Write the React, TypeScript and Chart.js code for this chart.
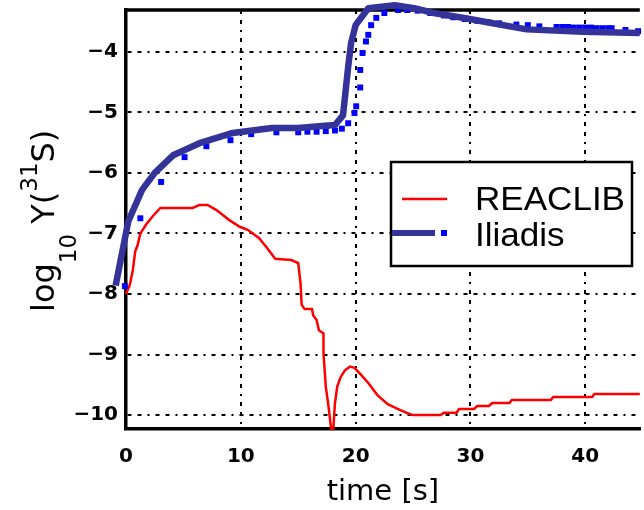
import React, { useEffect, useRef } from 'react';
import { Chart, registerables } from 'chart.js';

Chart.register(...registerables);

// ---- data ----
const reaclibX = [0, 0.33, 0.6, 0.8, 1.0, 1.25, 1.8, 2.4, 3.0, 5.8, 6.4, 7.1, 7.85, 9.0, 9.9, 10.6, 11.6, 12.2, 13.0, 14.4, 15.0, 15.2, 15.3, 15.56, 16.2, 16.3, 16.6, 16.8, 17.2, 17.2, 17.4, 17.6, 17.86, 18.06, 18.2, 18.4, 18.7, 19.07, 19.5, 19.9, 20.5, 21.1, 21.9, 22.8, 23.7, 24.4, 25.0, 27.4, 27.7, 28.8, 29.0, 30.3, 30.6, 31.6, 31.9, 33.4, 33.6, 37.0, 37.2, 40.6, 40.8, 44.75];
const reaclibY = [-8.0, -7.85, -7.6, -7.3, -7.2, -7.0, -6.84, -6.7, -6.58, -6.58, -6.53, -6.53, -6.61, -6.78, -6.89, -6.94, -7.08, -7.22, -7.42, -7.44, -7.49, -7.82, -8.18, -8.25, -8.25, -8.35, -8.43, -8.6, -8.65, -8.98, -9.53, -9.8, -10.22, -10.22, -9.8, -9.53, -9.37, -9.26, -9.2, -9.22, -9.34, -9.47, -9.67, -9.82, -9.9, -9.96, -10.0, -10.0, -9.96, -9.96, -9.9, -9.9, -9.85, -9.85, -9.8, -9.8, -9.75, -9.75, -9.7, -9.7, -9.65, -9.65];

const iliadisX = [-0.9, 0.2, 1.4, 2.5, 4.1, 6.4, 9.3, 12.7, 15.0, 16.8, 18.2, 18.9, 19.35, 19.6, 20.0, 21.1, 23.4, 25.1, 26.8, 29.7, 31.7, 34.9, 39.8, 44.75];
const iliadisY = [-7.86, -6.8, -6.28, -6.0, -5.71, -5.51, -5.34, -5.26, -5.26, -5.23, -5.21, -5.05, -4.25, -3.86, -3.56, -3.28, -3.23, -3.28, -3.36, -3.45, -3.52, -3.63, -3.67, -3.69];

const markerX = [-0.1, 1.25, 3.06, 5.1, 7.0, 9.1, 10.9, 13.1, 15.0, 15.8, 16.6, 17.4, 18.2, 18.8, 19.35, 19.9, 20.05, 20.4, 20.4, 20.6, 20.9, 21.1, 21.35, 21.8, 22.5, 23.7, 24.5, 25.4, 26.5, 27.7, 28.5, 29.5, 30.6, 31.5, 32.5, 34.0, 35.0, 36.0, 37.5, 38.0, 38.5, 39.0, 39.5, 40.0, 40.5, 41.0, 41.5, 42.0, 42.3, 43.5, 44.6];
const markerY = [-7.87, -6.75, -6.15, -5.74, -5.56, -5.46, -5.36, -5.33, -5.33, -5.32, -5.32, -5.31, -5.3, -5.27, -5.18, -5.01, -4.9, -4.59, -4.3, -4.02, -3.83, -3.72, -3.56, -3.44, -3.36, -3.31, -3.31, -3.32, -3.36, -3.4, -3.43, -3.46, -3.49, -3.51, -3.53, -3.55, -3.56, -3.58, -3.59, -3.59, -3.59, -3.6, -3.6, -3.6, -3.6, -3.61, -3.61, -3.61, -3.61, -3.64, -3.66];

const xTicks = [0, 10, 20, 30, 40];
const yTicks = [-10, -9, -8, -7, -6, -5, -4];
const legendLabels = ['REACLIB', 'Iliadis'];
const xTitle = 'time [s]';

const RED = '#ff0000';
const NAVY = '#333399';
const BLUE = '#0000ff';
const GRID_DASH = [4, 6, 4, 6, 2, 6];

const pts = (xs: number[], ys: number[]) => xs.map((x, i) => ({ x, y: ys[i] }));
const fmt = (v: number) => (v < 0 ? '\u2212' + Math.abs(v) : String(v));

const framePlugin = {
  id: 'frame',
  beforeDatasetsDraw(chart: any) {
    const { ctx, chartArea: ca } = chart;
    ctx.save();
    ctx.strokeStyle = '#000';
    ctx.lineWidth = 3.5;
    ctx.beginPath();
    ctx.moveTo(ca.left - 1.75, ca.top);
    ctx.lineTo(ca.right, ca.top);
    ctx.stroke();
    ctx.restore();
  },
  afterDraw(chart: any) {
    const { ctx, chartArea: ca } = chart;
    ctx.save();
    // y-axis title: log10 Y(31S), rotated
    ctx.translate(0, ca.top + 302);
    ctx.rotate(-Math.PI / 2);
    ctx.fillStyle = '#000';
    ctx.textBaseline = 'alphabetic';
    ctx.textAlign = 'left';
    const parts: [string, number, number][] = [
      ['log', 32, 54],
      ['10', 23, 76],
      [' Y(', 32, 54],
      ['31', 23, 37],
      ['S)', 32, 54],
    ];
    let a = 0;
    for (const [t, size, base] of parts) {
      ctx.font = `${size}px "DejaVu Sans"`;
      ctx.fillText(t, a, base);
      a += ctx.measureText(t).width;
    }
    ctx.restore();

    // legend
    const lx = ca.left + 265;
    const ly = ca.top + 152;
    ctx.save();
    ctx.fillStyle = '#fff';
    ctx.fillRect(lx, ly, 241, 104);
    ctx.strokeStyle = '#000';
    ctx.lineWidth = 2.5;
    ctx.strokeRect(lx, ly, 241, 104);
    ctx.strokeStyle = RED;
    ctx.lineWidth = 2.5;
    ctx.beginPath();
    ctx.moveTo(lx + 11, ly + 37);
    ctx.lineTo(lx + 56, ly + 37);
    ctx.stroke();
    ctx.strokeStyle = NAVY;
    ctx.lineWidth = 6;
    ctx.beginPath();
    ctx.moveTo(lx + 1, ly + 71);
    ctx.lineTo(lx + 44, ly + 71);
    ctx.stroke();
    ctx.fillStyle = BLUE;
    ctx.fillRect(lx + 50, ly + 68, 6, 6);
    ctx.fillStyle = '#000';
    ctx.font = '34px "Liberation Sans"';
    ctx.textBaseline = 'alphabetic';
    ctx.textAlign = 'left';
    const maxW = 150;
    const w0 = ctx.measureText(legendLabels[0]).width;
    const sx = w0 > 0 ? maxW / w0 : 1;
    ctx.translate(lx + 84, 0);
    ctx.scale(sx, 1);
    ctx.fillText(legendLabels[0], 0, ly + 48);
    ctx.fillText(legendLabels[1], 0, ly + 84);
    ctx.restore();
  },
};

export default function App() {
  const ref = useRef<HTMLCanvasElement>(null);
  useEffect(() => {
    const tickFont = { family: 'DejaVu Sans', size: 20, weight: 'bold' };
    const chart = new Chart(ref.current as HTMLCanvasElement, {
      type: 'scatter',
      data: {
        datasets: [
          {
            label: 'Iliadis',
            data: pts(iliadisX, iliadisY),
            showLine: true,
            borderColor: NAVY,
            backgroundColor: NAVY,
            borderWidth: 6.5,
            borderJoinStyle: 'round',
            pointRadius: 0,
            clip: false,
            order: 0,
          },
          {
            label: 'Iliadis markers',
            data: pts(markerX, markerY),
            showLine: false,
            pointStyle: 'rect',
            pointRadius: 4.2,
            pointBorderWidth: 0,
            backgroundColor: BLUE,
            borderColor: BLUE,
            clip: false,
            order: 1,
          },
          {
            label: 'REACLIB',
            data: pts(reaclibX, reaclibY),
            showLine: true,
            borderColor: RED,
            backgroundColor: RED,
            borderWidth: 2.5,
            pointRadius: 0,
            clip: false,
            order: 2,
          },
        ] as any,
      },
      options: {
        responsive: false,
        animation: false,
        devicePixelRatio: 1,
        layout: { padding: { top: 10, left: 0, right: 0, bottom: 0 } },
        plugins: { legend: { display: false }, tooltip: { enabled: false } },
        scales: {
          x: {
            type: 'linear',
            min: 0,
            max: 44.75,
            afterBuildTicks: (s: any) => {
              s.ticks = xTicks.map((v) => ({ value: v }));
            },
            afterFit: (s: any) => {
              s.height = 81;
              s.paddingLeft = 0;
              s.paddingRight = 0;
            },
            ticks: {
              font: tickFont,
              color: '#000',
              padding: 16,
              maxRotation: 0,
              autoSkip: false,
              callback: (v: any) => fmt(Number(v)),
            },
            title: {
              display: true,
              text: xTitle,
              font: { family: 'DejaVu Sans', size: 29 },
              color: '#000',
              padding: { top: 2, bottom: 0 },
            },
            grid: { color: '#000', lineWidth: 2, drawTicks: false },
            border: { color: '#000', width: 3.5, dash: GRID_DASH },
          },
          y: {
            type: 'linear',
            min: -10.23,
            max: -3.31,
            afterBuildTicks: (s: any) => {
              s.ticks = yTicks.map((v) => ({ value: v }));
            },
            afterFit: (s: any) => {
              s.width = 126;
              s.paddingTop = 0;
              s.paddingBottom = 0;
            },
            ticks: {
              font: tickFont,
              color: '#000',
              padding: 8,
              autoSkip: false,
              callback: (v: any) => fmt(Number(v)),
            },
            grid: { color: '#000', lineWidth: 2, drawTicks: false },
            border: { color: '#000', width: 3.5, dash: GRID_DASH },
          },
        },
      } as any,
      plugins: [framePlugin as any],
    });
    return () => chart.destroy();
  }, []);
  return (
    <div style={{ position: 'fixed', left: 0, top: 0, width: 644, height: 510, background: '#fff', overflow: 'hidden' }}>
      <canvas ref={ref} width={644} height={510} style={{ display: 'block', width: 644, height: 510 }} />
    </div>
  );
}
